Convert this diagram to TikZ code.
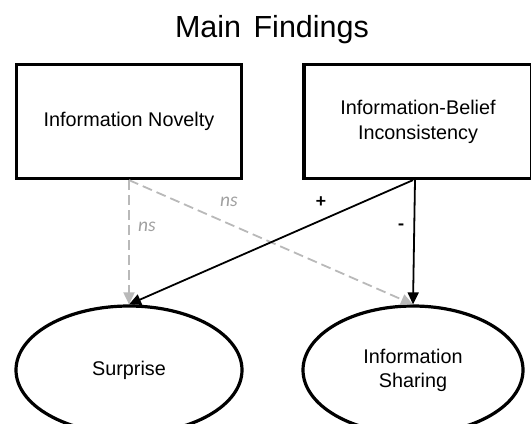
\documentclass[tikz,border=0pt]{standalone}
\usepackage{fontspec}
\setmainfont{Liberation Sans}
\newfontfamily\nsfont{Carlito}
\usetikzlibrary{shapes.geometric,arrows.meta}
\definecolor{lgray}{RGB}{185,185,185}
\definecolor{tgray}{RGB}{160,160,160}
\begin{document}
\begin{tikzpicture}[x=1bp,y=-1bp,
  boxnode/.style={draw,line width=3.2bp,rectangle,minimum width=225bp,minimum height=114bp,inner sep=0pt,align=center,font=\fontsize{19.8bp}{25bp}\selectfont},
  ellnode/.style={draw,line width=3.2bp,ellipse,minimum width=226bp,minimum height=128bp,inner sep=0pt,align=center,font=\fontsize{19.8bp}{24bp}\selectfont},
  solidarr/.style={line width=1.8bp,-{Triangle[length=12bp,width=11bp]}},
  dasharr/.style={line width=1.8bp,lgray,dash pattern=on 10bp off 5bp,-{Triangle[length=12bp,width=11bp]}},
  nslabel/.style={text=tgray,font=\nsfont\itshape\fontsize{19.5bp}{22bp}\selectfont},
  signlabel/.style={font=\nsfont\bfseries\fontsize{19.5bp}{22bp}\selectfont}]
\useasboundingbox (0,0) rectangle (531,423);
\node (title) at (272,30) {\fontsize{30.5bp}{35bp}\selectfont Main\hspace{4bp} Findings};
\node[boxnode] (nov) at (129,121.5) {Information Novelty};
\node[boxnode,minimum width=228bp] (ibi) at (418,121.5) {Information-Belief\\Inconsistency};
\node[ellnode] (sur) at (129,370) {Surprise};
\node[ellnode,minimum width=220bp] (sha) at (413,370) {Information\\Sharing};
\draw[dasharr] (nov.south) -- (sur.north);
\draw[dasharr] (nov.south) -- (sha.north);
\draw[solidarr] ([xshift=-5bp]ibi.south) -- (sur.north);
\draw[solidarr] ([xshift=-3bp]ibi.south) -- (sha.north);
\node[nslabel] (ns1) at (147,227) {ns};
\node[nslabel] (ns2) at (229,202) {ns};
\node[signlabel] (plus) at (321,202) {+};
\node[signlabel] (minus) at (401,227) {-};
\end{tikzpicture}
\end{document}
